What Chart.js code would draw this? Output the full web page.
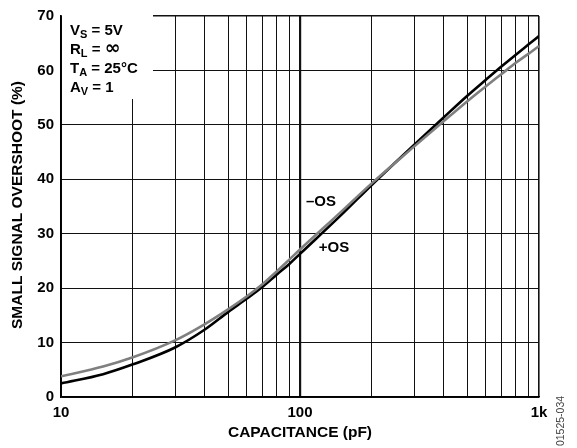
<!DOCTYPE html>
<html>
<head>
<meta charset="utf-8">
<script src="https://cdn.jsdelivr.net/npm/chart.js@4"></script>
<style>
  html,body{margin:0;padding:0;background:#fff;}
  #wrap{width:577px;height:448px;position:relative;}
</style>
</head>
<body>
<div id="wrap"><canvas id="overshoot"></canvas></div>
<script>
// capacitance (pF) and overshoot (%)
const capPF = [10,15,20,30,40,50,60,70,80,90,100,150,200,300,400,500,600,700,800,900,1000];
const plusOS = [2.5,4.2,6.0,9.1,12.4,15.6,18.1,20.3,22.5,24.4,26.3,33.6,39.0,46.3,51.4,55.3,58.3,60.8,62.9,64.7,66.3];
const minusOS = [3.8,5.6,7.3,10.4,13.4,16.1,18.5,20.8,23.1,25.2,27.1,34.2,39.3,46.0,50.7,54.3,57.1,59.4,61.4,63.0,64.5];
const yTickVals = [0,10,20,30,40,50,60,70];
const xGridVals = [10,20,30,40,50,60,70,80,90,100,200,300,400,500,600,700,800,900,1000];
const xTickText = {10:'10',100:'100',1000:'1k'};
const condLines = [['V','S',' = 5V'],['R','L',' = ','\u221E'],['T','A',' = 25\u00B0C'],['A','V',' = 1']];

const FONT = '"Liberation Sans", Arial, sans-serif';

function pts(ys){
  return capPF.map((c,i)=>({x:c,y:ys[i]}))
}

const textPlugin = {
  id:'texts',
  beforeDatasetsDraw(chart){
    const ctx = chart.ctx
    // white box behind the conditions text
    ctx.save()
    ctx.fillStyle='#fff'
    ctx.fillRect(62,15,91,84)
    ctx.restore()
  },
  afterDraw(chart){
    const ctx = chart.ctx
    ctx.save()
    ctx.fillStyle='#000'
    ctx.textBaseline='alphabetic'
    // conditions
    let y = 35
    condLines.forEach(l=>{
      let x = 70
      ctx.font = 'bold 15px '+FONT
      ctx.fillText(l[0],x,y)
      x += ctx.measureText(l[0]).width
      ctx.font = 'bold 11px '+FONT
      ctx.fillText(l[1],x,y+3)
      x += ctx.measureText(l[1]).width
      ctx.font = 'bold 15px '+FONT
      ctx.fillText(l[2],x,y)
      x += ctx.measureText(l[2]).width
      if(l[3]){
        ctx.font = 'bold 19px "DejaVu Sans", sans-serif'
        ctx.fillText(l[3],x,y)
      }
      y += 19
    })
    // curve labels
    ctx.font = 'bold 15px '+FONT
    ctx.textAlign='center'
    ctx.textBaseline='middle'
    ctx.fillText('\u2013OS',321,202)
    ctx.fillText('+OS',334,248)
    // axis titles
    ctx.font = 'bold 15.5px '+FONT
    ctx.fillText('CAPACITANCE (pF)',300,433)
    ctx.save()
    ctx.translate(18,205)
    ctx.rotate(-Math.PI/2)
    ctx.fillText('SMALL SIGNAL OVERSHOOT (%)',0,0)
    ctx.restore()
    // part number
    ctx.save()
    ctx.font = '10.5px '+FONT
    ctx.fillStyle='#444'
    ctx.translate(561,421)
    ctx.rotate(-Math.PI/2)
    ctx.fillText('01525-034',0,0)
    ctx.restore()
    ctx.restore()
  }
}

new Chart(document.getElementById('overshoot'),{
  type:'line',
  data:{
    datasets:[
      {label:'-OS',data:pts(minusOS),borderColor:'#7f7f7f',borderWidth:2.6,pointRadius:0,cubicInterpolationMode:'monotone',fill:false},
      {label:'+OS',data:pts(plusOS),borderColor:'#000',borderWidth:2.6,pointRadius:0,cubicInterpolationMode:'monotone',fill:false}
    ]
  },
  options:{
    responsive:true,
    maintainAspectRatio:false,
    animation:false,
    events:[],
    layout:{padding:{left:0,right:38,top:14,bottom:0}},
    plugins:{legend:{display:false},tooltip:{enabled:false}},
    scales:{
      x:{
        type:'logarithmic',
        min:10,max:1000,
        afterBuildTicks(axis){ axis.ticks = xGridVals.map(v=>({value:v})) },
        afterFit(axis){ axis.height = 51 },
        ticks:{
          autoSkip:false,maxRotation:0,padding:7,color:'#000',
          font:{family:FONT,size:15,weight:'bold'},
          callback:(v)=>xTickText[v]||''
        },
        grid:{
          drawTicks:false,color:'#111',
          lineWidth:(c)=>(c.tick && c.tick.value===100)?2.2:(c.tick && c.tick.value===1000?1.6:1)
        },
        border:{color:'#000',width:1.6}
      },
      y:{
        min:0,max:70,
        afterBuildTicks(axis){ axis.ticks = yTickVals.map(v=>({value:v})) },
        afterFit(axis){ axis.width = 61 },
        ticks:{
          padding:7,color:'#000',
          font:{family:FONT,size:15,weight:'bold'}
        },
        grid:{
          drawTicks:false,color:'#111',
          lineWidth:(c)=>(c.tick && c.tick.value===70)?1.6:1
        },
        border:{color:'#000',width:1.6}
      }
    }
  },
  plugins:[textPlugin]
})
</script>
</body>
</html>
